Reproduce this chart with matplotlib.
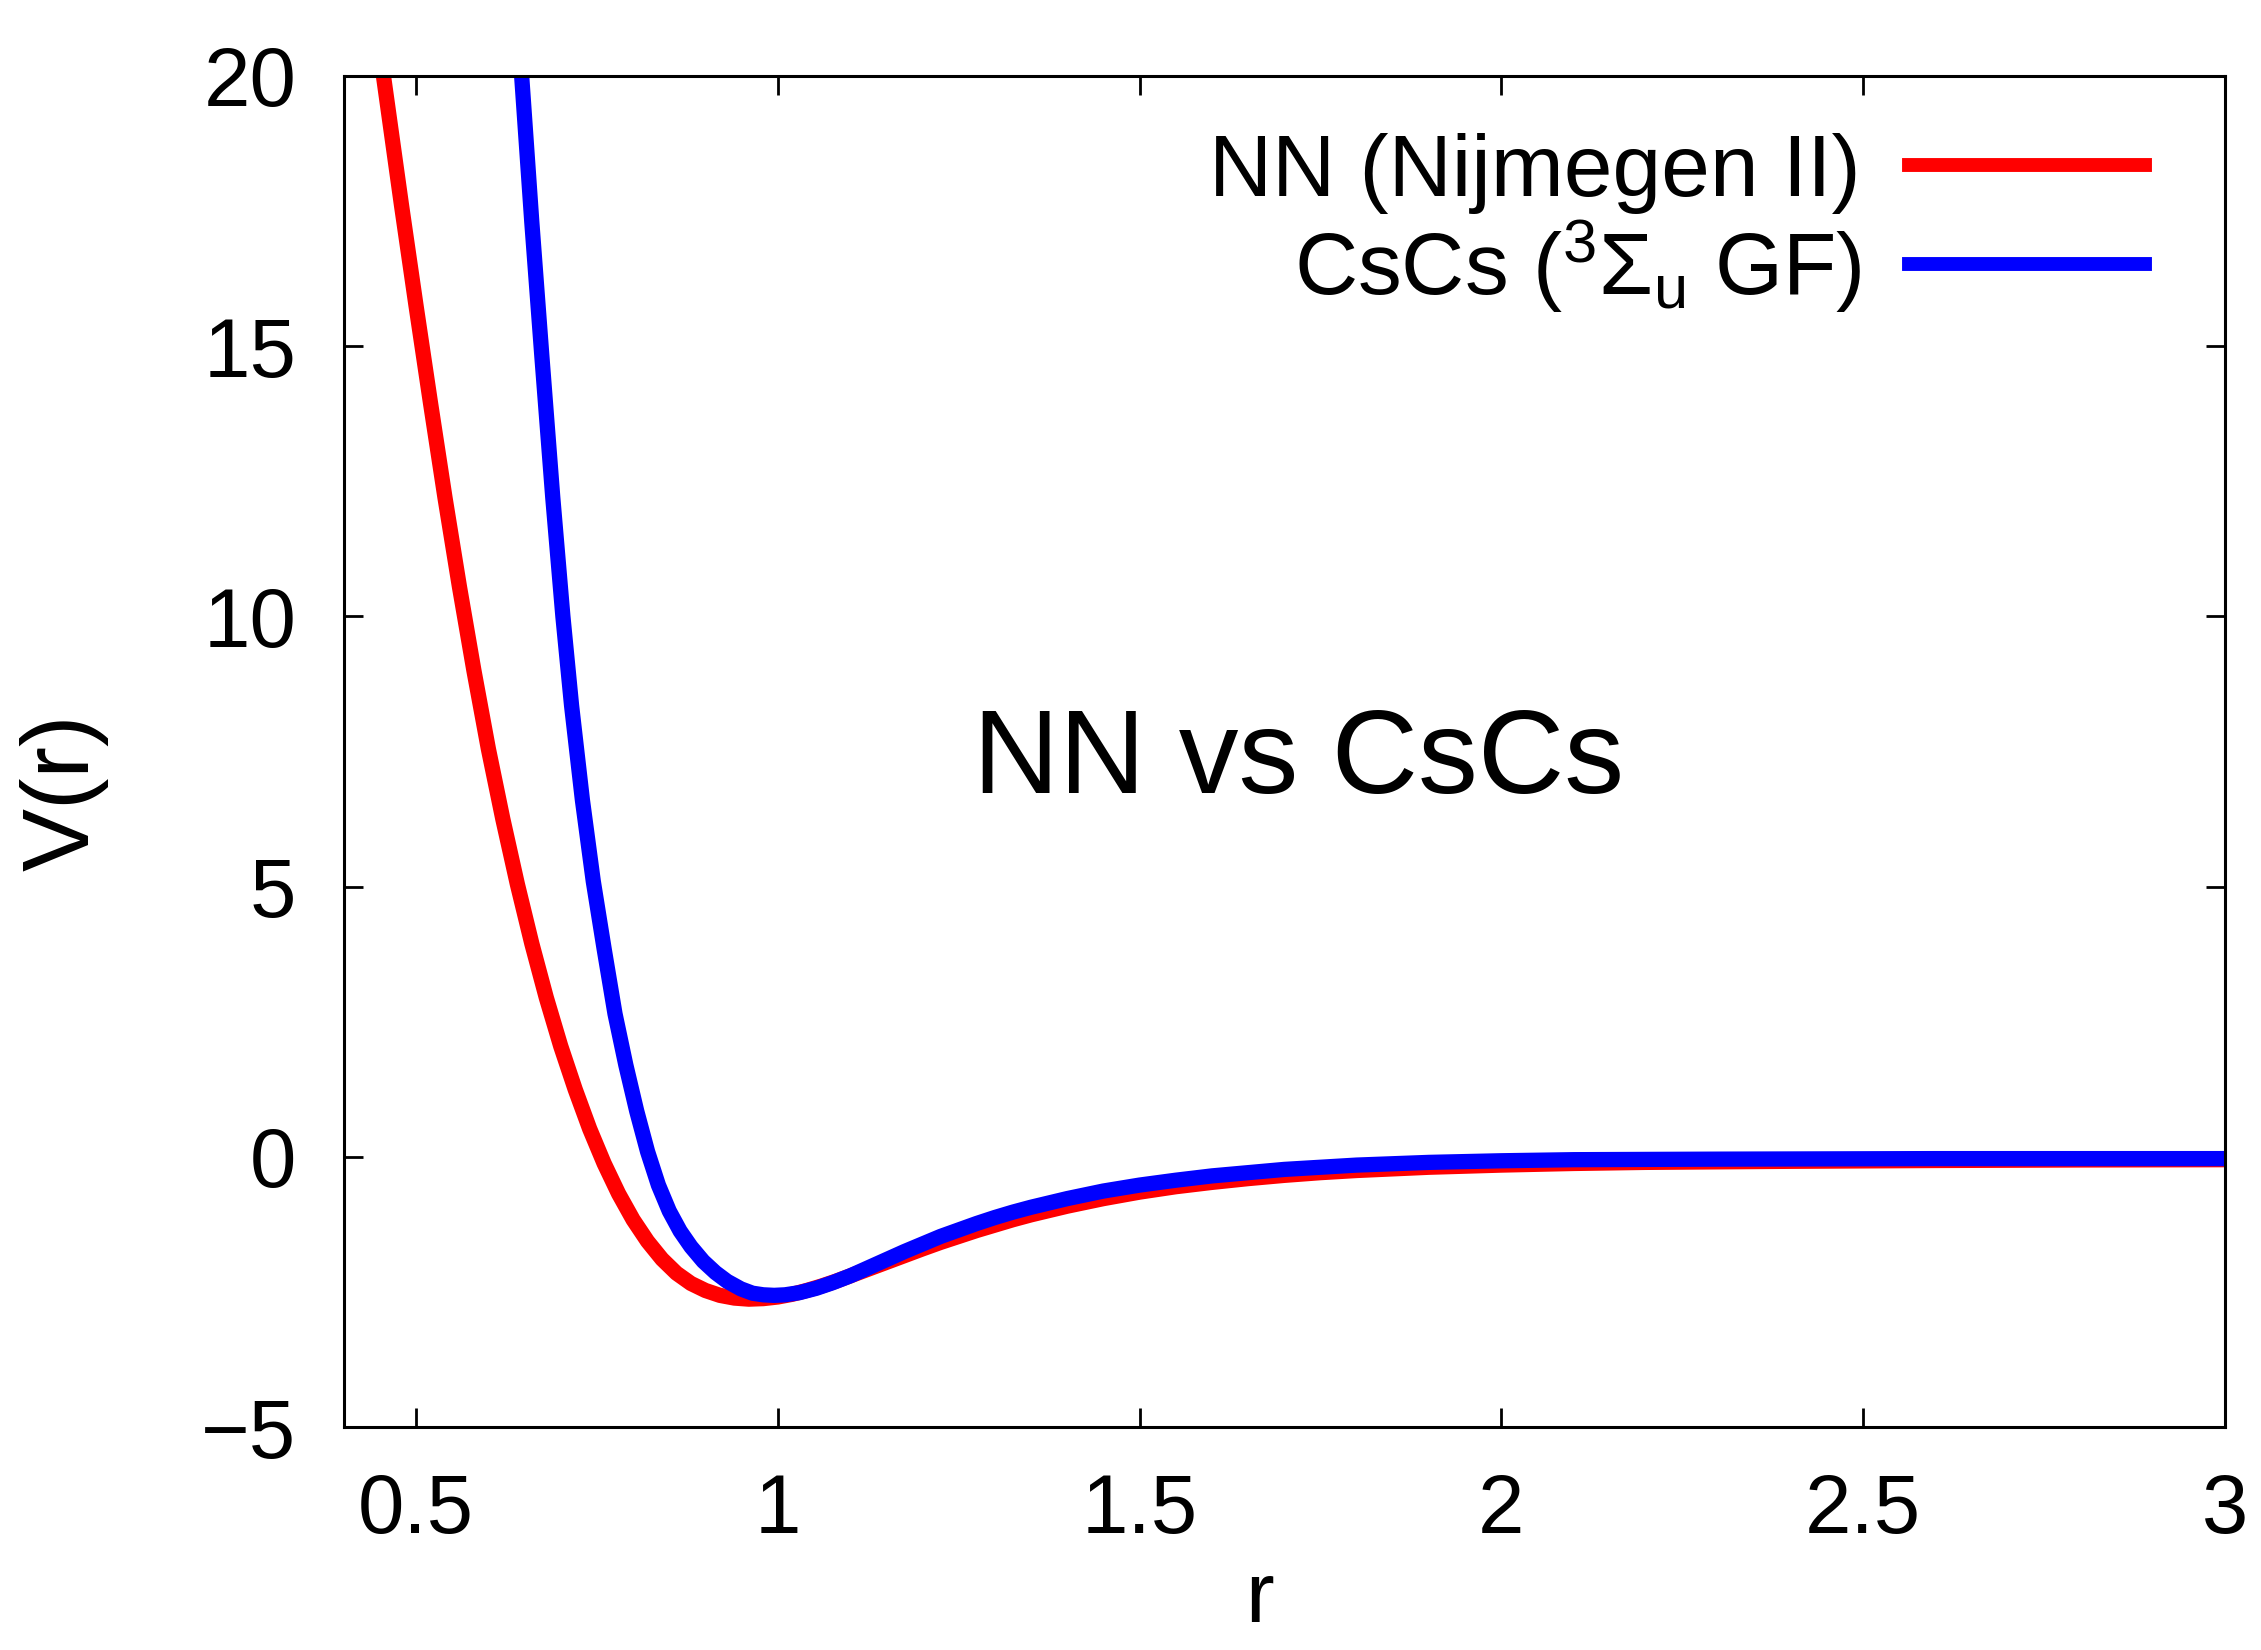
import matplotlib
matplotlib.use("Agg")
import matplotlib.pyplot as plt

plt.rcParams['font.family'] = ['Liberation Sans', 'DejaVu Sans']
plt.rcParams['mathtext.fontset'] = 'custom'
plt.rcParams['mathtext.rm'] = 'Liberation Sans'
plt.rcParams['mathtext.it'] = 'Liberation Sans:italic'
plt.rcParams['mathtext.bf'] = 'Liberation Sans:bold'

# ---- data ----
r_nn = [0.455, 0.48, 0.50, 0.52, 0.54, 0.56, 0.58, 0.60, 0.62, 0.64,
        0.66, 0.68, 0.70, 0.72, 0.74, 0.76, 0.78, 0.80, 0.82, 0.84,
        0.86, 0.88, 0.90, 0.92, 0.94, 0.96, 0.98, 1.00, 1.02, 1.04,
        1.06, 1.08, 1.10, 1.12, 1.14, 1.16, 1.18, 1.20, 1.225, 1.25,
        1.275, 1.30, 1.325, 1.35, 1.375, 1.40, 1.45, 1.50, 1.55, 1.60,
        1.65, 1.70, 1.75, 1.80, 1.90, 2.00, 2.10, 2.20, 2.40, 2.60,
        2.80, 3.00]
v_nn = [20.0, 17.6, 15.75, 13.95, 12.2, 10.55, 9.0, 7.55, 6.25, 5.05,
        3.95, 2.95, 2.05, 1.25, 0.52, -0.12, -0.68, -1.16, -1.56, -1.89,
        -2.15, -2.34, -2.47, -2.56, -2.61, -2.63, -2.62, -2.59, -2.54, -2.47,
        -2.39, -2.30, -2.20, -2.10, -2.00, -1.90, -1.80, -1.70, -1.58, -1.47,
        -1.36, -1.26, -1.16, -1.07, -0.99, -0.91, -0.77, -0.65, -0.55, -0.47,
        -0.40, -0.34, -0.29, -0.25, -0.19, -0.15, -0.12, -0.10, -0.08, -0.065,
        -0.055, -0.05]

r_cs = [0.646, 0.66, 0.674, 0.689, 0.703, 0.715, 0.73, 0.745, 0.76, 0.775,
        0.79, 0.805, 0.82, 0.835, 0.85, 0.865, 0.88, 0.897, 0.914,
        0.93, 0.949, 0.965, 0.98, 0.995, 1.01, 1.03, 1.053, 1.075, 1.10,
        1.125, 1.15, 1.175, 1.20, 1.225, 1.25, 1.275, 1.30, 1.325, 1.35,
        1.375, 1.40, 1.45, 1.50, 1.55, 1.60, 1.65, 1.70, 1.75, 1.80,
        1.90, 2.00, 2.10, 2.30, 2.60, 3.00]
v_cs = [20.0, 17.3, 14.8, 12.2, 10.0, 8.35, 6.6, 5.1, 3.85, 2.65,
        1.7, 0.85, 0.1, -0.52, -1.0, -1.37, -1.66, -1.93, -2.14,
        -2.30, -2.44, -2.52, -2.55, -2.56, -2.55, -2.51, -2.43, -2.33, -2.20,
        -2.05, -1.90, -1.75, -1.61, -1.47, -1.35, -1.23, -1.12, -1.02, -0.93,
        -0.85, -0.77, -0.63, -0.52, -0.43, -0.35, -0.29, -0.23, -0.19, -0.15,
        -0.10, -0.07, -0.05, -0.04, -0.03, -0.03]

label_nn = "NN (Nijmegen II)"
label_cs = r"CsCs ($^{3}\Sigma_{\mathrm{u}}$ GF)"
annotation = "NN vs CsCs"
xlabel = "r"
ylabel = "V(r)"
xticks = [0.5, 1, 1.5, 2, 2.5, 3]
xticklabels = ["0.5", "1", "1.5", "2", "2.5", "3"]
yticks = [-5, 0, 5, 10, 15, 20]
yticklabels = ["\u22125", "0", "5", "10", "15", "20"]

# ---- figure ----
fig = plt.figure(figsize=(22.61, 16.5), dpi=100)
ax = fig.add_axes([0.152, 0.135, 0.832, 0.819])

ax.plot(r_nn, v_nn, color='#ff0000', lw=11, label=label_nn,
        solid_joinstyle='round')
ax.plot(r_cs, v_cs, color='#0000ff', lw=11, label=label_cs,
        solid_joinstyle='round')

ax.set_xlim(0.4, 3.0)
ax.set_ylim(-5, 20)
ax.set_xticks(xticks)
ax.set_xticklabels(xticklabels)
ax.set_yticks(yticks)
ax.set_yticklabels(yticklabels)

ax.tick_params(axis='both', direction='in', length=14, width=2,
               top=True, right=True, labelsize=60)
ax.tick_params(axis='x', pad=32)
ax.tick_params(axis='y', pad=34)
for s in ax.spines.values():
    s.set_linewidth(2.2)

ax.set_xlabel(xlabel, fontsize=62)
ax.set_ylabel(ylabel, fontsize=68)
ax.xaxis.set_label_coords(0.487, -0.098)
ax.yaxis.set_label_coords(-0.125, 0.47)

ax.text(1.72, 7.3, annotation, fontsize=86, ha='center', va='center')

leg = ax.legend(loc='upper right', frameon=False, markerfirst=False,
                fontsize=63, handlelength=2.7, handletextpad=0.55,
                labelspacing=0.05, borderaxespad=0.25,
                bbox_to_anchor=(0.988, 1.0))
for col in leg._legend_handle_box.get_children():
    col.align = "right"
for line in leg.get_lines():
    line.set_linewidth(10)

fig.savefig("out.png", dpi=100, facecolor='white')
